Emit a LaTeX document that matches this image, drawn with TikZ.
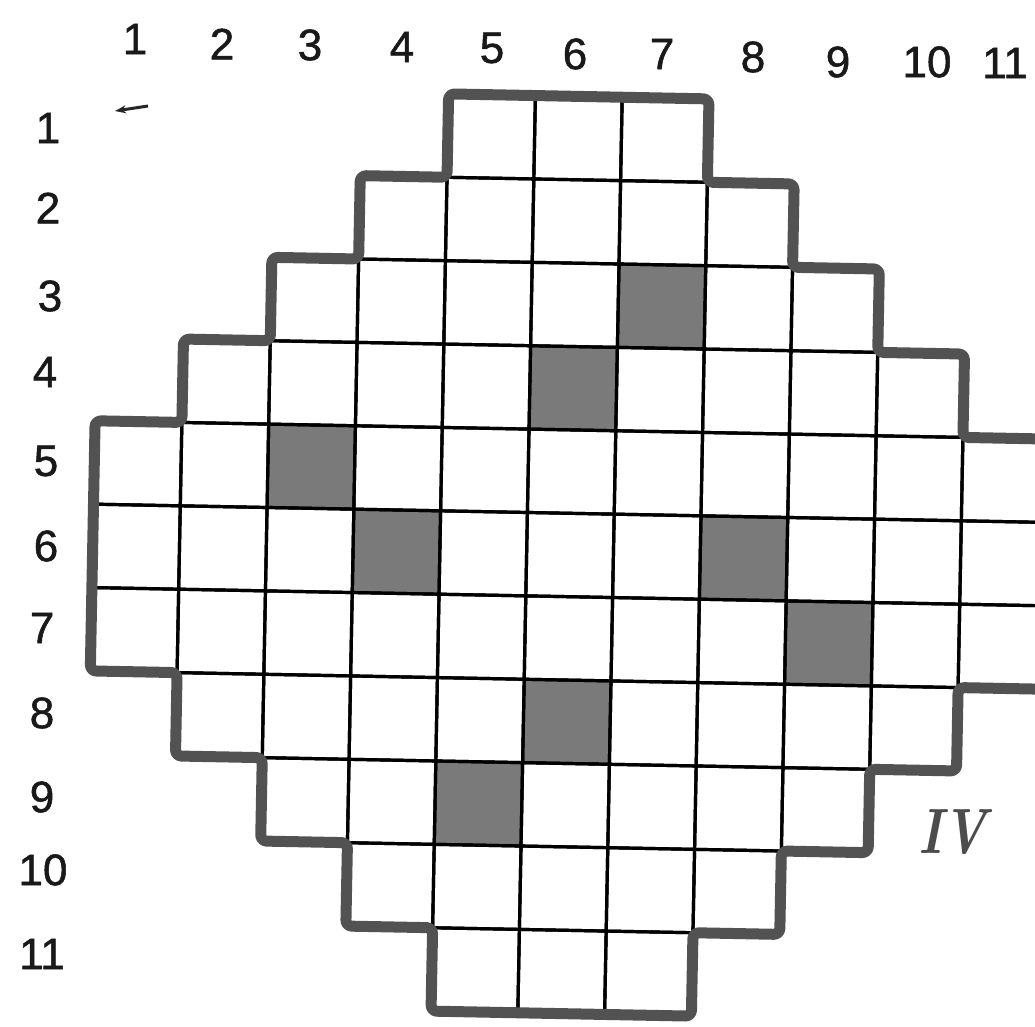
\documentclass[tikz,border=0pt]{standalone}
\usepackage{fontspec}
\newfontfamily\labfont[FakeBold=1.2]{Liberation Sans}
\usetikzlibrary{arrows.meta}
\tikzset{
  cellline/.style={draw=black, line width=3.2pt},
  shaded/.style={fill=black!52},
  outline/.style={draw=black!68, line width=11pt, rounded corners=6pt, line join=round},
  lab/.style={font=\labfont\fontsize{44}{44}\selectfont, inner sep=0pt, text=black!90},
  roman/.style={font=\fontsize{64}{64}\selectfont\bfseries\itshape, inner sep=0pt, text=black!70, xscale=0.8},
}
\begin{document}
\begin{tikzpicture}[x=1pt, y=-1pt]
\useasboundingbox (0,0) rectangle (1035,1026);
\clip (0,0) rectangle (1035,1026);
\fill[white] (0,0) rectangle (1035,1026);
\begin{scope}[shift={(570,555)}, rotate=-1.1]
\begin{scope}[x=86.8pt, y=-83.4pt, shift={(-5.5,-5.5)}]
  % shaded cells (col,row)
  \foreach \c/\r in {7/3, 6/4, 3/5, 4/6, 8/6, 9/7, 6/8, 5/9}
    \fill[shaded] (\c-1,\r-1) rectangle (\c,\r);
  % grid cells
  \foreach \r/\a/\b in {1/5/7, 2/4/8, 3/3/9, 4/2/10, 5/1/11, 6/1/11, 7/1/11, 8/2/10, 9/3/9, 10/4/8, 11/5/7}
    \foreach \c in {\a,...,\b}
      \draw[cellline] (\c-1,\r-1) rectangle (\c,\r);
  % outer boundary
  \draw[outline] (4,0) -- (7,0) -- (7,1) -- (8,1) -- (8,2) -- (9,2) -- (9,3) -- (10,3) -- (10,4) -- (11,4)
    -- (11,7) -- (10,7) -- (10,8) -- (9,8) -- (9,9) -- (8,9) -- (8,10) -- (7,10) -- (7,11)
    -- (4,11) -- (4,10) -- (3,10) -- (3,9) -- (2,9) -- (2,8) -- (1,8) -- (1,7) -- (0,7)
    -- (0,4) -- (1,4) -- (1,3) -- (2,3) -- (2,2) -- (3,2) -- (3,1) -- (4,1) -- cycle;
\end{scope}
\end{scope}
% column labels
\foreach \n/\x/\y in {1/135/39, 2/222/44, 3/310/45, 4/402/47, 5/492/48, 6/575/54, 7/662/54, 8/753/57, 9/838/62, 10/927/62, 11/1005/63}
  \node[lab] (col\n) at (\x,\y) {\n};
% row labels
\foreach \n/\x/\y in {1/48/128, 2/48/208, 3/50/296, 4/45/372, 5/46/461, 6/46/546, 7/42/628, 8/42/713, 9/42/797, 10/43/870, 11/42/954}
  \node[lab] (row\n) at (\x,\y) {\n};
% small arrow mark
\coordinate (arrS) at (148,106);
\coordinate (arrE) at (115,111);
\draw[line width=3pt, black!85, -{Stealth[length=11pt,width=8pt]}] (arrS) -- (arrE);
% roman numeral
\node[roman] (iv) at (953,832) {IV};
\end{tikzpicture}
\end{document}
